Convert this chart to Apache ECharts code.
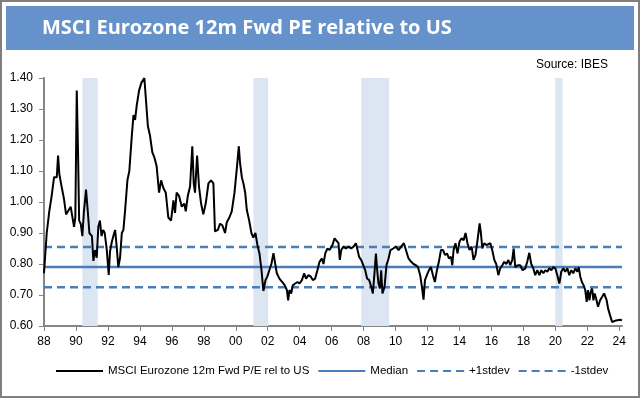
<!DOCTYPE html>
<html>
<head>
<meta charset="utf-8">
<title>MSCI Eurozone 12m Fwd PE relative to US</title>
<script src="https://cdn.jsdelivr.net/npm/echarts@6/dist/echarts.min.js"></script>
<style>
html, body {
  margin: 0;
  padding: 0;
  background: #fff;
}
#pe-chart {
  width: 640px;
  height: 398px;
}
</style>
</head>
<body>
<div id="pe-chart"></div>
<script>
// decimal year -> 12m fwd P/E ratio EZ vs US
var years = [
  1988.00, 1988.17, 1988.33, 1988.48, 1988.63, 1988.80, 1988.88, 1988.96, 1989.10, 1989.25,
  1989.38, 1989.50, 1989.67, 1989.77, 1989.88, 1989.96, 1990.05, 1990.13, 1990.20, 1990.30,
  1990.40, 1990.50, 1990.63, 1990.74, 1990.84, 1991.00, 1991.09, 1991.20, 1991.30, 1991.40,
  1991.50, 1991.60, 1991.70, 1991.80, 1991.93, 1992.05, 1992.13, 1992.24, 1992.34, 1992.45,
  1992.55, 1992.65, 1992.76, 1992.87, 1992.97, 1993.07, 1993.22, 1993.34, 1993.49, 1993.60,
  1993.70, 1993.80, 1993.95, 1994.10, 1994.28, 1994.40, 1994.50, 1994.63, 1994.78, 1994.90,
  1995.05, 1995.20, 1995.33, 1995.47, 1995.62, 1995.78, 1995.95, 1996.10, 1996.20, 1996.30,
  1996.45, 1996.62, 1996.78, 1996.87, 1997.00, 1997.14, 1997.28, 1997.37, 1997.45, 1997.58,
  1997.70, 1997.83, 1997.97, 1998.12, 1998.29, 1998.45, 1998.60, 1998.70, 1998.88, 1999.02,
  1999.16, 1999.33, 1999.44, 1999.60, 1999.75, 1999.92, 2000.07, 2000.19, 2000.27, 2000.38,
  2000.48, 2000.59, 2000.69, 2000.84, 2000.98, 2001.10, 2001.23, 2001.36, 2001.48, 2001.61,
  2001.73, 2001.86, 2001.98, 2002.10, 2002.23, 2002.36, 2002.47, 2002.57, 2002.73, 2002.90,
  2003.07, 2003.20, 2003.28, 2003.36, 2003.47, 2003.57, 2003.72, 2003.86, 2003.99, 2004.14,
  2004.28, 2004.40, 2004.55, 2004.70, 2004.82, 2004.97, 2005.11, 2005.24, 2005.39, 2005.49,
  2005.60, 2005.74, 2005.87, 2006.05, 2006.18, 2006.30, 2006.43, 2006.51, 2006.60, 2006.74,
  2006.89, 2007.05, 2007.22, 2007.37, 2007.52, 2007.64, 2007.72, 2007.85, 2007.97, 2008.10,
  2008.22, 2008.35, 2008.48, 2008.58, 2008.68, 2008.77, 2008.85, 2008.93, 2009.02, 2009.10,
  2009.18, 2009.31, 2009.43, 2009.56, 2009.68, 2009.85, 2010.02, 2010.19, 2010.35, 2010.52,
  2010.65, 2010.81, 2010.98, 2011.12, 2011.27, 2011.40, 2011.54, 2011.65, 2011.75, 2011.84,
  2011.96, 2012.09, 2012.21, 2012.34, 2012.46, 2012.59, 2012.71, 2012.84, 2012.97, 2013.09,
  2013.22, 2013.34, 2013.47, 2013.55, 2013.63, 2013.75, 2013.88, 2014.00, 2014.13, 2014.26,
  2014.38, 2014.50, 2014.63, 2014.76, 2014.88, 2015.00, 2015.13, 2015.26, 2015.34, 2015.43,
  2015.55, 2015.68, 2015.80, 2015.93, 2016.05, 2016.18, 2016.30, 2016.43, 2016.55, 2016.68,
  2016.80, 2016.93, 2017.06, 2017.18, 2017.30, 2017.39, 2017.49, 2017.64, 2017.80, 2017.95,
  2018.12, 2018.24, 2018.37, 2018.49, 2018.62, 2018.74, 2018.87, 2019.00, 2019.12, 2019.25,
  2019.37, 2019.50, 2019.62, 2019.75, 2019.87, 2020.00, 2020.12, 2020.25, 2020.37, 2020.50,
  2020.62, 2020.75, 2020.87, 2021.00, 2021.12, 2021.25, 2021.37, 2021.46, 2021.56, 2021.66,
  2021.77, 2021.87, 2021.96, 2022.04, 2022.13, 2022.21, 2022.30, 2022.38, 2022.46, 2022.55,
  2022.67, 2022.80, 2022.92, 2023.05, 2023.13, 2023.21, 2023.30, 2023.42, 2023.55, 2023.67,
  2023.80, 2023.92, 2024.05, 2024.17
]
var peRel = [
  0.770, 0.900, 0.970, 1.020, 1.080, 1.080, 1.150, 1.090, 1.050, 1.010,
  0.960, 0.960, 0.985, 0.990, 0.920, 0.950, 1.360, 1.160, 0.940, 0.930,
  0.890, 0.970, 1.040, 0.970, 0.900, 0.890, 0.810, 0.845, 0.820, 0.920,
  0.940, 0.890, 0.910, 0.900, 0.845, 0.765, 0.840, 0.870, 0.890, 0.910,
  0.855, 0.790, 0.820, 0.900, 0.910, 0.970, 1.070, 1.100, 1.210, 1.280,
  1.265, 1.310, 1.360, 1.385, 1.400, 1.395, 1.245, 1.215, 1.160, 1.145,
  1.115, 1.030, 1.070, 1.045, 1.030, 0.950, 0.940, 1.005, 0.965, 1.030,
  1.020, 0.985, 0.995, 0.970, 1.020, 1.050, 1.180, 1.060, 1.030, 1.150,
  1.050, 0.995, 0.960, 0.995, 1.060, 1.070, 1.060, 0.905, 0.910, 0.930,
  0.925, 0.900, 0.935, 0.950, 0.970, 1.030, 1.110, 1.180, 1.125, 1.080,
  1.060, 1.030, 0.975, 0.940, 0.900, 0.885, 0.900, 0.860, 0.835, 0.780,
  0.713, 0.748, 0.760, 0.780, 0.800, 0.835, 0.800, 0.770, 0.753, 0.742,
  0.731, 0.716, 0.683, 0.716, 0.705, 0.731, 0.737, 0.742, 0.737, 0.748,
  0.770, 0.753, 0.764, 0.759, 0.748, 0.753, 0.780, 0.807, 0.818, 0.800,
  0.834, 0.850, 0.845, 0.861, 0.883, 0.877, 0.867, 0.813, 0.845, 0.856,
  0.850, 0.856, 0.850, 0.856, 0.867, 0.861, 0.823, 0.813, 0.807, 0.780,
  0.753, 0.748, 0.726, 0.705, 0.770, 0.834, 0.780, 0.737, 0.721, 0.780,
  0.705, 0.726, 0.796, 0.818, 0.845, 0.850, 0.856, 0.845, 0.856, 0.867,
  0.845, 0.818, 0.807, 0.800, 0.796, 0.790, 0.764, 0.726, 0.685, 0.748,
  0.764, 0.780, 0.790, 0.764, 0.742, 0.780, 0.807, 0.845, 0.845, 0.829,
  0.834, 0.818, 0.823, 0.796, 0.845, 0.867, 0.834, 0.872, 0.883, 0.877,
  0.900, 0.867, 0.845, 0.856, 0.813, 0.829, 0.877, 0.931, 0.900, 0.850,
  0.867, 0.861, 0.856, 0.867, 0.845, 0.813, 0.800, 0.764, 0.786, 0.796,
  0.807, 0.800, 0.813, 0.796, 0.813, 0.850, 0.790, 0.796, 0.796, 0.780,
  0.786, 0.807, 0.836, 0.800, 0.786, 0.764, 0.780, 0.764, 0.780, 0.770,
  0.780, 0.775, 0.786, 0.780, 0.790, 0.786, 0.764, 0.737, 0.775, 0.786,
  0.775, 0.786, 0.764, 0.780, 0.770, 0.786, 0.775, 0.790, 0.759, 0.742,
  0.731, 0.716, 0.678, 0.716, 0.683, 0.710, 0.721, 0.683, 0.705, 0.689,
  0.662, 0.683, 0.689, 0.705, 0.694, 0.683, 0.656, 0.635, 0.613, 0.613,
  0.618, 0.616, 0.620, 0.618
]

// median and +/- 1 stdev bands
var median = 0.79
var plusStdev = 0.855
var minusStdev = 0.725

// shaded periods (US recessions), start/end as decimal years
var shadeStart = [1990.40, 2001.11, 2007.85, 2019.99]
var shadeEnd = [1991.36, 2002.03, 2009.60, 2020.45]

// x tick labels
var tickYears = [1988, 1990, 1992, 1994, 1996, 1998, 2000, 2002, 2004, 2006,
  2008, 2010, 2012, 2014, 2016, 2018, 2020, 2022, 2024]

var xMin = 1988
var xMax = 2024.17

var seriesName = 'MSCI Eurozone 12m Fwd P/E rel to US'
var blue = '#4A7EBB'
var axisGrey = '#868686'
var font = '"Liberation Sans", Arial, sans-serif'

var chart = echarts.init(document.getElementById('pe-chart'), null, { renderer: 'canvas' })

var lineData = []
for (var i = 0; i < years.length; i++) {
  lineData.push([years[i], peRel[i]])
}

var shadeAreas = []
for (var k = 0; k < shadeStart.length; k++) {
  shadeAreas.push([{ xAxis: shadeStart[k] }, { xAxis: shadeEnd[k] }])
}

function flatLine(v) {
  return [[xMin, v], [xMax, v]]
}

var option = {
  animation: false,
  backgroundColor: '#fff',
  graphic: [
    { // outer frame
      type: 'rect',
      shape: { x: 1, y: 1, width: 638, height: 396 },
      style: { fill: 'none', stroke: '#7f7f7f', lineWidth: 2 },
      z: 100
    },
    { // title bar
      type: 'rect',
      shape: { x: 6, y: 6, width: 628, height: 44 },
      style: { fill: '#6592CB' },
      z: -1
    }
  ],
  title: [
    {
      text: 'MSCI Eurozone 12m Fwd PE relative to US',
      left: 42,
      top: 18,
      padding: 0,
      textStyle: {
        color: '#fff',
        fontFamily: '"Open Sans", sans-serif',
        fontWeight: 'bold',
        fontSize: 20
      }
    },
    {
      text: 'Source: IBES',
      right: 32,
      top: 59,
      padding: 0,
      textStyle: {
        color: '#000',
        fontFamily: font,
        fontWeight: 'normal',
        fontSize: 12
      }
    }
  ],
  legend: {
    left: 55,
    top: 365,
    padding: 0,
    itemWidth: 47,
    itemHeight: 14,
    itemGap: 8,
    itemStyle: { opacity: 0 }, // line only, no dot
    data: [seriesName, 'Median', '+1stdev', '-1stdev'],
    textStyle: { color: '#000', fontFamily: font, fontSize: 11.5 }
  },
  grid: {
    left: 44,
    right: 18,
    top: 78,
    bottom: 72
  },
  xAxis: {
    type: 'value',
    min: xMin,
    max: xMax,
    splitLine: { show: false },
    axisLine: { lineStyle: { color: axisGrey, width: 2 } },
    axisTick: { customValues: tickYears, length: 5, lineStyle: { color: axisGrey, width: 1 } },
    axisLabel: {
      customValues: tickYears,
      margin: 10,
      color: '#000',
      fontFamily: font,
      fontSize: 12,
      formatter: function (v) {
        return String(Math.round(v) % 100).padStart(2, '0')
      }
    }
  },
  yAxis: {
    type: 'value',
    min: 0.6,
    max: 1.4,
    interval: 0.1,
    splitLine: { show: false },
    axisLine: { show: true, lineStyle: { color: axisGrey, width: 2 } },
    axisTick: { show: true, length: 5, lineStyle: { color: axisGrey, width: 1 } },
    axisLabel: {
      margin: 11,
      color: '#000',
      fontFamily: font,
      fontSize: 12,
      formatter: function (v) {
        return v.toFixed(2)
      }
    }
  },
  series: [
    { // shaded bands only
      name: 'shade',
      type: 'line',
      data: [],
      z: 0,
      silent: true,
      markArea: {
        silent: true,
        itemStyle: { color: '#DCE6F2' },
        data: shadeAreas
      }
    },
    {
      name: 'Median',
      type: 'line',
      symbol: 'none',
      data: flatLine(median),
      z: 2,
      lineStyle: { color: blue, width: 2.5 },
      itemStyle: { color: blue }
    },
    {
      name: '+1stdev',
      type: 'line',
      symbol: 'none',
      data: flatLine(plusStdev),
      z: 2,
      lineStyle: { color: blue, width: 2.5, type: [8, 5] },
      itemStyle: { color: blue }
    },
    {
      name: '-1stdev',
      type: 'line',
      symbol: 'none',
      data: flatLine(minusStdev),
      z: 2,
      lineStyle: { color: blue, width: 2.5, type: [8, 5] },
      itemStyle: { color: blue }
    },
    {
      name: seriesName,
      type: 'line',
      symbol: 'none',
      data: lineData,
      z: 3,
      lineStyle: { color: '#000', width: 2 },
      itemStyle: { color: '#000' }
    }
  ]
}

chart.setOption(option)
</script>
</body>
</html>
